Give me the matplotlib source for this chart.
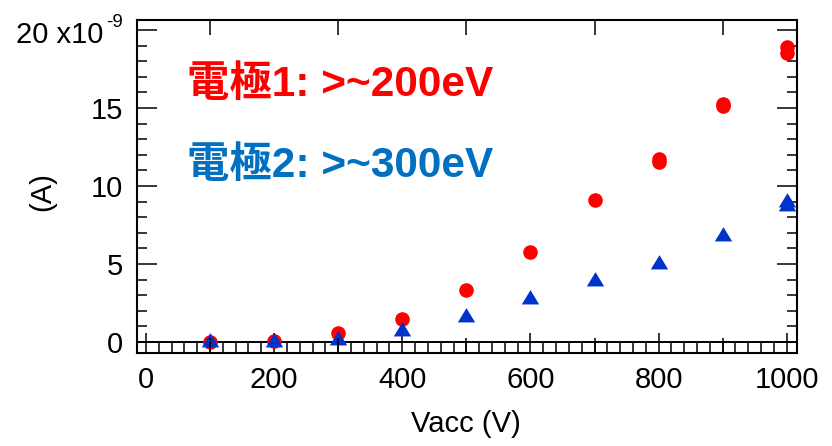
import numpy as np
import matplotlib
matplotlib.use("Agg")
import matplotlib.pyplot as plt
from matplotlib.ticker import MultipleLocator, FixedLocator

plt.rcParams['font.family'] = ['Liberation Sans', 'Noto Sans CJK JP', 'DejaVu Sans']

# accelerating voltage (V) and measured current (x1e-9 A)
vacc_1 = [100, 200, 300, 400, 500, 600, 700, 800, 800, 900, 900, 1000, 1000]
curr_1 = [0.0, 0.05, 0.58, 1.49, 3.35, 5.77, 9.07, 11.55, 11.75, 15.1, 15.25, 18.5, 18.9]

vacc_2 = [100, 200, 300, 400, 500, 600, 700, 800, 900, 1000, 1000]
curr_2 = [0.1, 0.1, 0.25, 0.83, 1.7, 2.88, 4.06, 5.1, 6.9, 8.85, 9.1]

label_1 = '電極1: >~200eV'
label_2 = '電極2: >~300eV'

red = '#ff0000'
tri_blue = '#0033cc'
txt_blue = '#0070c0'

FS = 21

W, H = 832, 446
fig = plt.figure(figsize=(W / 100, H / 100), dpi=100)
ax = fig.add_axes([137 / W, 1 - 352.5 / H, 660 / W, 332.5 / H])

# wide, flat triangle like the igor marker
tri = [(-1.0, -0.8), (1.0, -0.8), (0.0, 0.85), (-1.0, -0.8)]

ax.plot(vacc_1, curr_1, 'o', color=red, ms=10.5, mec='none', zorder=3)
ax.plot(vacc_2, curr_2, linestyle='none', marker=tri, color=tri_blue, ms=12.5,
        mec='none', zorder=4)

ax.axhline(0, color='black', lw=1.4, zorder=2)

ax.set_xlim(-14, 1016)
ax.set_ylim(-0.68, 20.64)

for s in ax.spines.values():
    s.set_linewidth(1.5)

ax.xaxis.set_major_locator(MultipleLocator(200))
ax.xaxis.set_minor_locator(MultipleLocator(20))
ax.yaxis.set_major_locator(FixedLocator([0, 5, 10, 15, 20]))
ax.yaxis.set_minor_locator(MultipleLocator(1))
ax.set_yticklabels(['0', '5', '10', '15', ''])

ax.tick_params(which='both', direction='in', top=True, right=True, width=1.1,
               labelsize=FS, colors='black')
ax.tick_params(which='major', length=14.4)
ax.tick_params(which='minor', length=7.2)
ax.tick_params(axis='y', pad=10)
ax.tick_params(axis='x', pad=10)

# medium ticks at the odd hundreds
ax2 = ax.twiny()
ax2.set_xlim(ax.get_xlim())
ax2.xaxis.set_major_locator(FixedLocator([100, 300, 500, 700, 900]))
ax2.tick_params(direction='in', top=True, bottom=True, labeltop=False,
                labelbottom=False, length=10.8, width=1.1)
for s in ax2.spines.values():
    s.set_visible(False)

# top y label with the exponent
ax.annotate('20 x10', xy=(0, 20), xycoords=('axes fraction', 'data'),
            xytext=(-24.5, -3.5), textcoords='offset points',
            ha='right', va='center', fontsize=FS)
ax.annotate('-9', xy=(0, 20), xycoords=('axes fraction', 'data'),
            xytext=(-10, 2), textcoords='offset points',
            ha='right', va='baseline', fontsize=13.5)

fig.text(42 / W, 1 - 192 / H, '(A)', rotation=90, ha='center', va='center', fontsize=FS)
fig.text(466 / W, 1 - 424 / H, 'Vacc (V)', ha='center', va='center', fontsize=FS)

ax.text(0.076, 0.805, label_1, transform=ax.transAxes, color=red, fontsize=30.5,
        fontweight='bold', ha='left', va='center')
ax.text(0.076, 0.56, label_2, transform=ax.transAxes, color=txt_blue, fontsize=30.5,
        fontweight='bold', ha='left', va='center')

fig.savefig('out.png', dpi=100)
